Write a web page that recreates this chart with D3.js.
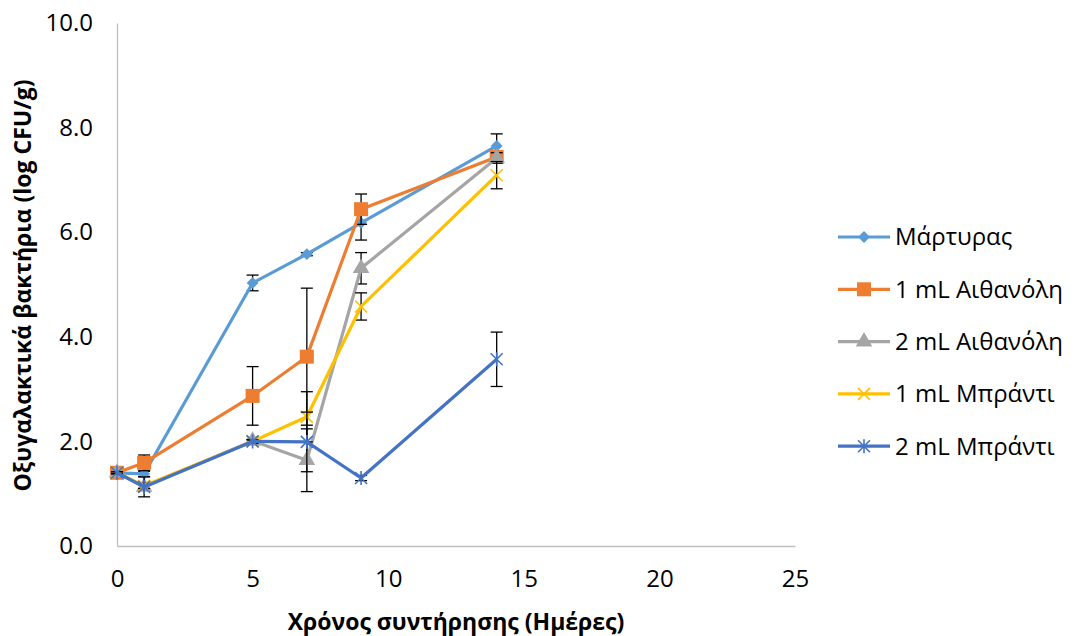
<!DOCTYPE html>
<html>
<head>
<meta charset="utf-8">
<script src="https://cdn.jsdelivr.net/npm/d3@7"></script>
<style>
  body { margin: 0; background: #fff; }
  svg text { font-family: "Open Sans", "Noto Sans", sans-serif; fill: #000; }
</style>
</head>
<body>
<div id="chart"></div>
<script>
// Data
const days = [0, 1, 5, 7, 9, 14];
const seriesNames = ["Μάρτυρας", "1 mL Αιθανόλη", "2 mL Αιθανόλη", "1 mL Μπράντι", "2 mL Μπράντι"];
const seriesColors = ["#5B9BD5", "#ED7D31", "#A5A5A5", "#FFC000", "#4472C4"];
const seriesMarkers = ["diamond", "square", "triangle", "x", "star"];

const martyras = [1.40, 1.38, 5.03, 5.58, 6.18, 7.65];
const ethanol1 = [1.40, 1.59, 2.87, 3.62, 6.44, 7.44];
const ethanol2 = [1.40, 1.13, 2.01, 1.64, 5.31, 7.42];
const brandy1 = [1.40, 1.15, 2.00, 2.47, 4.58, 7.09];
const brandy2 = [1.40, 1.13, 2.00, 1.99, 1.30, 3.57];

const errMartyras = [0.02, 0.05, 0.15, 0.03, 0.33, 0.23];
const errEthanol1 = [0.02, 0.15, 0.56, 1.31, 0.29, 0.10];
const errEthanol2 = [0.02, 0.05, 0.03, 0.60, 0.30, 0.10];
const errBrandy1 = [0.02, 0.05, 0.03, 0.48, 0.26, 0.26];
const errBrandy2 = [0.02, 0.19, 0.03, 0.57, 0.05, 0.52];

const yTicks = [0, 2, 4, 6, 8, 10];
const xTicks = [0, 5, 10, 15, 20, 25];

const allValues = [martyras, ethanol1, ethanol2, brandy1, brandy2];
const allErrors = [errMartyras, errEthanol1, errEthanol2, errBrandy1, errBrandy2];

const series = seriesNames.map((name, i) => ({
  name, color: seriesColors[i], marker: seriesMarkers[i],
  points: days.map((d, j) => ({ day: d, v: allValues[i][j], e: allErrors[i][j] }))
}));

const width = 1075, height = 636;
const plot = { left: 117, right: 795, top: 23, bottom: 546 };
const fs = 24;

const svg = d3.select("#chart").append("svg")
  .attr("width", width).attr("height", height);

const x = d3.scaleLinear().domain([0, 25]).range([plot.left, plot.right]);
const y = d3.scaleLinear().domain([0, 10]).range([plot.bottom, plot.top]);

// axes
const xAxis = svg.append("g")
  .attr("transform", `translate(0,${plot.bottom})`)
  .call(d3.axisBottom(x).tickValues(xTicks).tickSize(0).tickPadding(24).tickFormat(d3.format("d")));
xAxis.select(".domain").attr("stroke", "#BFBFBF").attr("stroke-width", 1.3);
xAxis.selectAll("text").attr("font-size", fs).style("fill", "#000");

const yAxis = svg.append("g")
  .attr("transform", `translate(${plot.left},0)`)
  .call(d3.axisLeft(y).tickValues(yTicks).tickSize(0).tickPadding(24).tickFormat(d3.format(".1f")));
yAxis.select(".domain").attr("stroke", "#BFBFBF").attr("stroke-width", 1.3);
yAxis.selectAll("text").attr("font-size", fs).style("fill", "#000");

svg.append("text")
  .attr("x", x(12.5)).attr("y", 630)
  .attr("text-anchor", "middle").attr("font-size", 23).attr("font-weight", "bold")
  .text("Χρόνος συντήρησης (Ημέρες)");
svg.append("text")
  .attr("transform", `translate(31,${(plot.top + plot.bottom) / 2 + 1}) rotate(-90)`)
  .attr("text-anchor", "middle").attr("font-size", 23).attr("font-weight", "bold")
  .text("Οξυγαλακτικά βακτήρια (log CFU/g)");

// marker shapes
function drawMarker(g, type, color, cx, cy) {
  if (type === "diamond") {
    g.append("path").attr("d", d3.symbol(d3.symbolDiamond2, 90)())
      .attr("transform", `translate(${cx},${cy})`).attr("fill", color);
  } else if (type === "square") {
    g.append("rect").attr("x", cx - 7).attr("y", cy - 7).attr("width", 14).attr("height", 14)
      .attr("fill", color);
  } else if (type === "triangle") {
    g.append("path").attr("d", d3.symbol(d3.symbolTriangle, 120)())
      .attr("transform", `translate(${cx},${cy})`).attr("fill", color);
  } else if (type === "x") {
    g.append("path").attr("d", `M${cx - 6},${cy - 6}L${cx + 6},${cy + 6}M${cx - 6},${cy + 6}L${cx + 6},${cy - 6}`)
      .attr("stroke", color).attr("stroke-width", 1.6);
  } else if (type === "star") {
    g.append("path").attr("d", `M${cx - 6},${cy - 6}L${cx + 6},${cy + 6}M${cx - 6},${cy + 6}L${cx + 6},${cy - 6}M${cx},${cy - 7}L${cx},${cy + 7}`)
      .attr("stroke", color).attr("stroke-width", 1.6);
  }
}

const line = d3.line().x((p) => x(p.day)).y((p) => y(p.v));

series.forEach((s) => {
  const g = svg.append("g");
  // error bars
  s.points.forEach((p) => {
    const eg = g.append("g").attr("stroke", "#000").attr("stroke-width", 1.3);
    eg.append("line").attr("x1", x(p.day)).attr("x2", x(p.day)).attr("y1", y(p.v - p.e)).attr("y2", y(p.v + p.e));
    [p.v - p.e, p.v + p.e].forEach((v) => {
      eg.append("line").attr("x1", x(p.day) - 6).attr("x2", x(p.day) + 6).attr("y1", y(v)).attr("y2", y(v));
    });
  });
  g.append("path").datum(s.points).attr("d", line)
    .attr("fill", "none").attr("stroke", s.color).attr("stroke-width", 3.2)
    .attr("stroke-linejoin", "round");
  s.points.forEach((p) => drawMarker(g, s.marker, s.color, x(p.day), y(p.v)));
});

// legend
const legend = svg.append("g");
series.forEach((s, i) => {
  const ly = 237 + i * 52.3;
  legend.append("line").attr("x1", 838).attr("x2", 890).attr("y1", ly).attr("y2", ly)
    .attr("stroke", s.color).attr("stroke-width", 3.2);
  drawMarker(legend, s.marker, s.color, 864, ly);
  legend.append("text").attr("x", 895).attr("y", ly).attr("dy", "0.35em")
    .attr("font-size", fs).text(s.name);
});
</script>
</body>
</html>
